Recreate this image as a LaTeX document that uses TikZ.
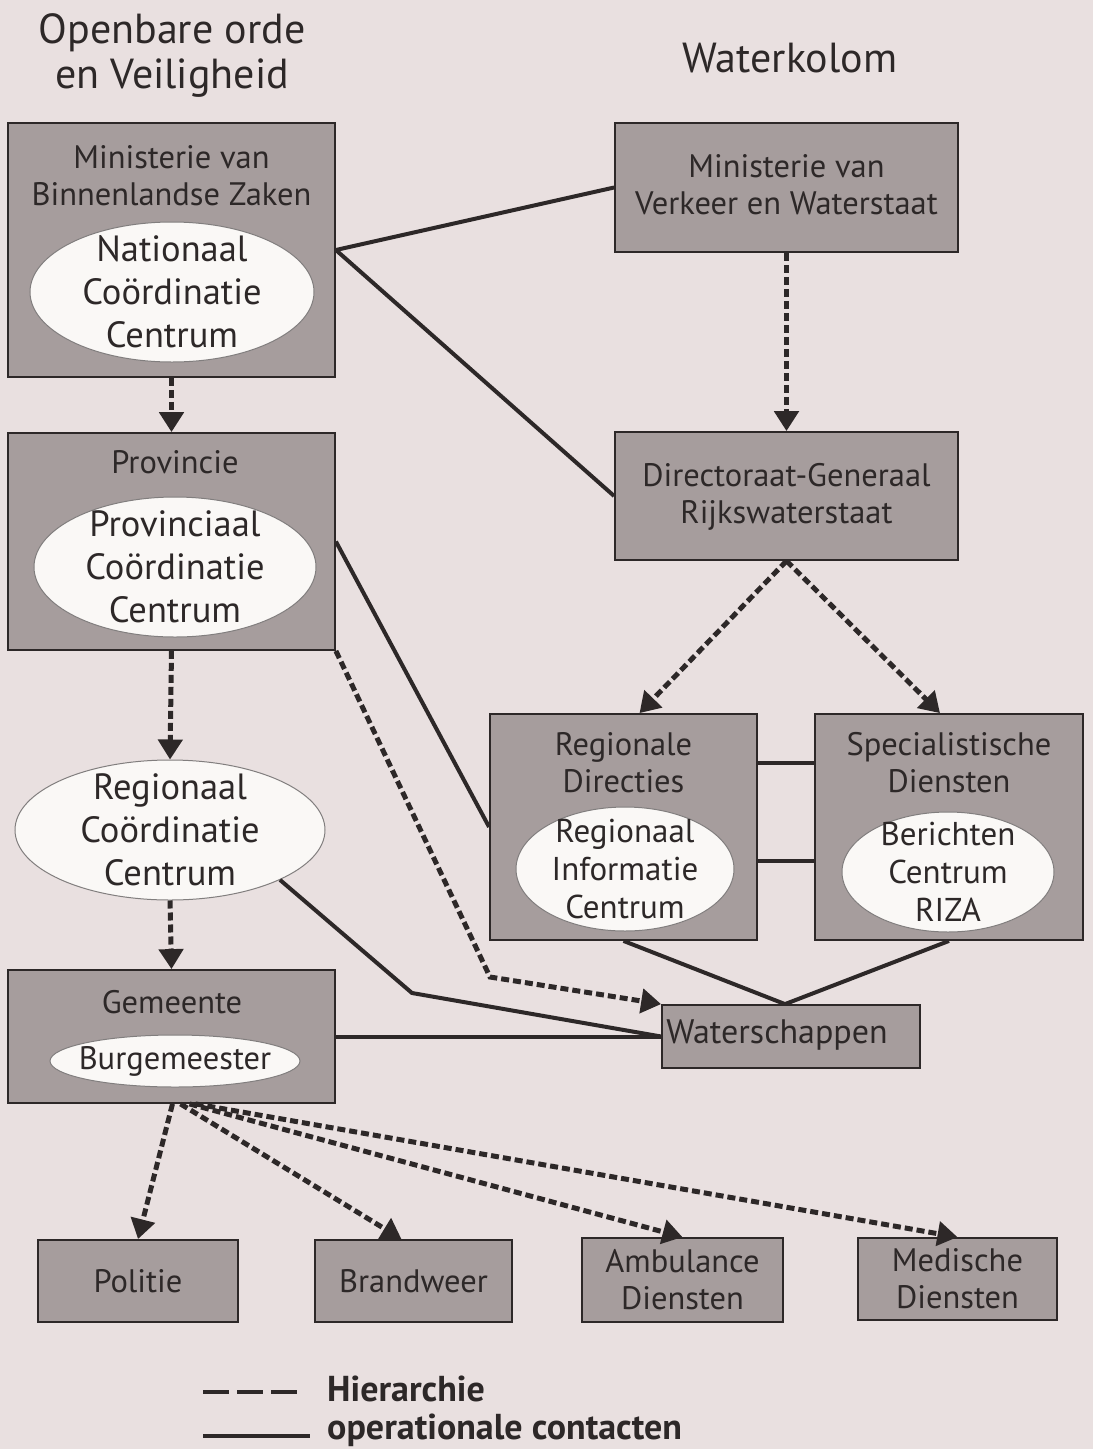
\documentclass[tikz,border=0pt]{standalone}
\usepackage{fontspec}
\setmainfont{PT Sans}
\usetikzlibrary{arrows.meta,shapes.geometric,calc}
\definecolor{bgc}{RGB}{233,224,224}
\definecolor{boxc}{RGB}{166,157,157}
\definecolor{ellc}{RGB}{250,248,246}
\definecolor{ink}{RGB}{45,40,40}
\begin{document}
\begin{tikzpicture}[x=1pt,y=-1pt,
 box/.style={draw=ink,line width=1.8pt,fill=boxc,rectangle,inner sep=0pt},
 oval/.style={draw=ink!60,line width=1pt,fill=ellc,ellipse,inner sep=0pt},
 txt/.style={text=ink,align=center,inner sep=0pt,font=\fontsize{32.5}{37}\selectfont},
 big/.style={text=ink,align=center,inner sep=0pt,font=\fontsize{36.5}{43}\selectfont},
 mid/.style={text=ink,align=center,inner sep=0pt,font=\fontsize{33}{38}\selectfont},
 ttl/.style={text=ink,align=center,inner sep=0pt,font=\fontsize{42}{45}\selectfont},
 legtxt/.style={text=ink,inner sep=0pt,anchor=west,font=\fontsize{36}{40}\selectfont\bfseries},
 hier/.style={draw=ink,line width=5pt,dash pattern=on 8pt off 4pt,-{Triangle[width=24pt,length=20pt]}},
 oper/.style={draw=ink,line width=4pt},
]
\fill[bgc] (0,0) rectangle (1093,1449);
\useasboundingbox (0,0) rectangle (1093,1449);

% titles
\node[ttl] (t1) at (172,55) {Openbare orde\\en Veiligheid};
\node[ttl] (t2) at (790,58) {Waterkolom};

% boxes
\node[box,minimum width=327pt,minimum height=254pt] (minbz) at (171.5,250) {};
\node[box,minimum width=343pt,minimum height=129pt] (minvw) at (786.5,187.5) {};
\node[box,minimum width=327pt,minimum height=217pt] (prov) at (171.5,541.5) {};
\node[box,minimum width=343pt,minimum height=128pt] (dg) at (786.5,496) {};
\node[box,minimum width=327pt,minimum height=133pt] (gem) at (171.5,1036.5) {};
\node[box,minimum width=267pt,minimum height=226pt] (rd) at (623.5,827) {};
\node[box,minimum width=268pt,minimum height=226pt] (sd) at (949,827) {};
\node[box,minimum width=258pt,minimum height=63pt] (ws) at (791,1036.5) {};
\node[box,minimum width=200pt,minimum height=82pt] (pol) at (138,1281) {};
\node[box,minimum width=197pt,minimum height=82pt] (brw) at (413.5,1281) {};
\node[box,minimum width=201pt,minimum height=84pt] (amb) at (682.5,1280) {};
\node[box,minimum width=199pt,minimum height=82pt] (med) at (957.5,1279) {};

% ellipses
\node[oval,minimum width=284pt,minimum height=140pt] (ncc) at (172,292) {};
\node[oval,minimum width=282pt,minimum height=140pt] (pcc) at (175,567) {};
\node[oval,minimum width=310pt,minimum height=140pt] (rcc) at (170,830) {};
\node[oval,minimum width=250pt,minimum height=52pt] (burg) at (175,1061) {};
\node[oval,minimum width=218pt,minimum height=124pt] (ric) at (625,869) {};
\node[oval,minimum width=212pt,minimum height=120pt] (bcr) at (948,872) {};

% texts
\node[txt] (minbzt) at (171.5,176) {Ministerie van\\Binnenlandse Zaken};
\node[big] (ncct) at (ncc) {Nationaal\\Coördinatie\\Centrum};
\node[txt] (minvwt) at (786.5,185) {Ministerie van\\Verkeer en Waterstaat};
\node[txt] (provt) at (175,462) {Provincie};
\node[big] (pcct) at (pcc) {Provinciaal\\Coördinatie\\Centrum};
\node[txt] (dgt) at (786.5,497) {Directoraat-Generaal\\Rijkswaterstaat};
\node[big] (rcct) at (rcc) {Regionaal\\Coördinatie\\Centrum};
\node[txt] (gemt) at (172,1002) {Gemeente};
\node[txt] (burgt) at (burg) {Burgemeester};
\node[txt] (rdt) at (623.5,763) {Regionale\\Directies};
\node[mid] (rict) at (ric) {Regionaal\\Informatie\\Centrum};
\node[txt] (sdt) at (949,763) {Specialistische\\Diensten};
\node[mid] (bcrt) at (bcr) {Berichten\\Centrum\\RIZA};
\node[font=\fontsize{34}{38}\selectfont,text=ink,inner sep=0pt] (wst) at (777,1035) {Waterschappen};
\node[txt] (polt) at (pol) {Politie};
\node[txt] (brwt) at (brw) {Brandweer};
\node[txt] (ambt) at (amb) {Ambulance\\Diensten};
\node[txt] (medt) at (med) {Medische\\Diensten};

% operational contacts
\draw[oper] (minbz.east) -- (minvw.west);
\draw[oper] (minbz.east) -- (dg.west);
\draw[oper] (prov.east) -- (rd.west);
\draw[oper] (rcc.south east) -- (412,993) -- (ws.west);
\draw[oper] (gem.east) -- (ws.west);
\draw[oper] (rd.south) -- ([xshift=-6pt]ws.north);
\draw[oper] (sd.south) -- ([xshift=-6pt]ws.north);
\draw[oper] ($(rd.north east)+(0,50)$) -- ($(sd.north west)+(0,50)$);
\draw[oper] ($(rd.north east)+(0,148)$) -- ($(sd.north west)+(0,148)$);

% hierarchy
\draw[hier] (minbz.south) -- (prov.north);
\draw[hier] (minvw.south) -- (dg.north);
\draw[hier] (dg.south) -- ([xshift=16pt]rd.north);
\draw[hier] (dg.south) -- ([xshift=-9pt]sd.north);
\draw[hier] (prov.south east) -- (490,977) -- (ws.north west);
\draw[hier] (prov.south) -- (rcc.north);
\draw[hier] (rcc.south) -- (gem.north);
\draw[hier] ([xshift=1pt]gem.south) -- (pol.north);
\draw[hier] ([xshift=9pt]gem.south) -- ([xshift=-12pt]brw.north);
\draw[hier] ([xshift=18pt]gem.south) -- (amb.north);
\draw[hier] ([xshift=24pt]gem.south) -- (med.north);

% legend
\coordinate (l1a) at (203,1392);
\coordinate (l1b) at (297,1392);
\coordinate (l2a) at (203,1436);
\coordinate (l2b) at (310,1436);
\draw[draw=ink,line width=4.5pt,dash pattern=on 26pt off 8pt] (l1a) -- (l1b);
\draw[oper] (l2a) -- (l2b);
\node[legtxt] (l1t) at (327,1389) {Hierarchie};
\node[legtxt] (l2t) at (327,1430) {operationale contacten};
\end{tikzpicture}
\end{document}
